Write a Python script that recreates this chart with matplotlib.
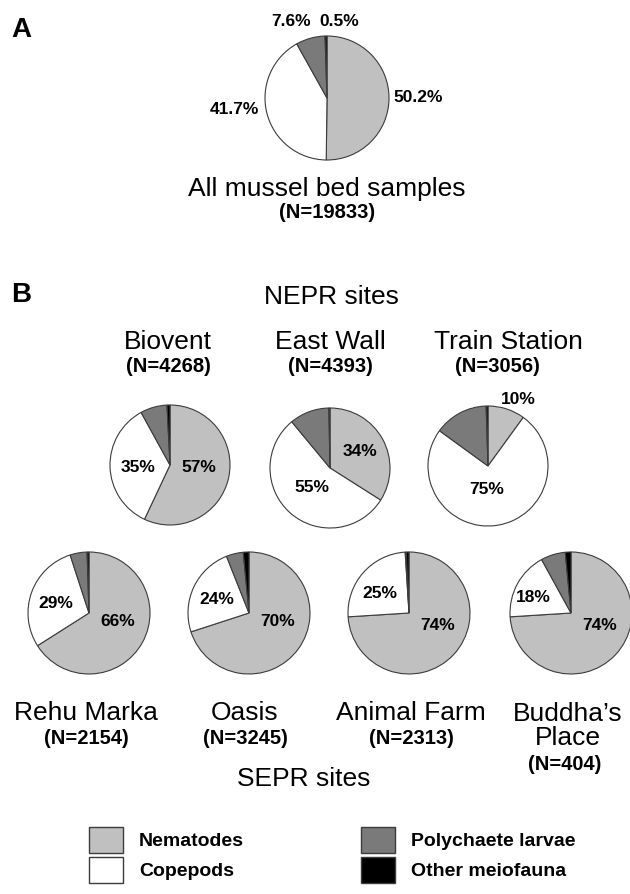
import matplotlib
matplotlib.use("Agg")
import matplotlib.pyplot as plt
from matplotlib.patches import Patch

W, H = 630, 894  # розмір у пікселях

# дані
groups = ["Nematodes", "Copepods", "Polychaete larvae", "Other meiofauna"]
all_values = [50.2, 41.7, 7.6, 0.5]
all_n = 19833

sites = ["Biovent", "East Wall", "Train Station",
         "Rehu Marka", "Oasis", "Animal Farm", "Buddha\u2019s\nPlace"]
site_n = [4268, 4393, 3056, 2154, 3245, 2313, 404]
nematodes = [57, 34, 10, 66, 70, 74, 74]
copepods = [35, 55, 75, 29, 24, 25, 18]
polychaetes = [7.2, 10.7, 14.5, 4.5, 4.5, 0.3, 6.5]
other = [0.8, 0.3, 0.5, 0.5, 1.5, 0.7, 1.5]

colors = ["#c0c0c0", "#ffffff", "#7a7a7a", "#000000"]

# розміщення (пікселі від верхнього лівого кута)
all_center, all_r = (327, 98), 62
all_label_pos = [(418, 98), (234, 110), (291, 22), (339, 21)]
site_centers = [(170, 465), (330, 468), (488, 466),
                (89, 613), (249, 613), (409, 613), (571, 613)]
site_r = [60, 60, 60, 61, 61, 61, 61]
nem_label_pos = [(199, 467), (360, 452), (518, 399),
                 (118, 622), (278, 622), (438, 626), (600, 626)]
cop_label_pos = [(138, 467), (312, 487), (487, 490),
                 (56, 603), (217, 599), (380, 593), (533, 597)]
title_pos = [(168, 342), (330, 342), (508, 342),
             (86, 713), (245, 713), (411, 713), (568, 726)]
n_pos = [(168, 366), (330, 366), (497, 366),
         (86, 739), (245, 739), (411, 739), (565, 765)]

plt.rcParams['font.family'] = ['Liberation Sans', 'DejaVu Sans']
PCT = 12.5
TITLE = 19
NSIZE = 14.5


def P(x, y):
    return x, H - y


fig = plt.figure(figsize=(W / 100, H / 100), dpi=100)
ax = fig.add_axes([0, 0, 1, 1])
wp = dict(edgecolor="#3c3c3c", linewidth=0.8)

# A
ax.pie(all_values, colors=colors, center=P(*all_center), radius=all_r,
       startangle=90, counterclock=False, wedgeprops=wp, frame=True)
for v, pos in zip(all_values, all_label_pos):
    ax.text(*P(*pos), f"{v:.1f}%", ha="center", va="center",
            fontsize=PCT, fontweight="bold")
ax.text(*P(327, 189), "All mussel bed samples", ha="center", va="center", fontsize=TITLE)
ax.text(*P(327, 213), f"(N={all_n})", ha="center", va="center",
        fontsize=NSIZE, fontweight="bold")

# B
for i, name in enumerate(sites):
    vals = [nematodes[i], copepods[i], polychaetes[i], other[i]]
    ax.pie(vals, colors=colors, center=P(*site_centers[i]), radius=site_r[i],
           startangle=90, counterclock=False, wedgeprops=wp, frame=True)
    ax.text(*P(*nem_label_pos[i]), f"{nematodes[i]}%", ha="center", va="center",
            fontsize=PCT, fontweight="bold")
    ax.text(*P(*cop_label_pos[i]), f"{copepods[i]}%", ha="center", va="center",
            fontsize=PCT, fontweight="bold")
    ax.text(*P(*title_pos[i]), name, ha="center", va="center", fontsize=TITLE,
            linespacing=1.05)
    ax.text(*P(*n_pos[i]), f"(N={site_n[i]})", ha="center", va="center",
            fontsize=NSIZE, fontweight="bold")

ax.text(*P(21, 30), "A", ha="center", va="center", fontsize=20, fontweight="bold")
ax.text(*P(21, 295), "B", ha="center", va="center", fontsize=20, fontweight="bold")
ax.text(*P(331, 297), "NEPR sites", ha="center", va="center", fontsize=TITLE)
ax.text(*P(304, 779), "SEPR sites", ha="center", va="center", fontsize=TITLE)

ax.set_xlim(0, W)
ax.set_ylim(0, H)
ax.set_aspect("equal")
ax.axis("off")

handles = [Patch(facecolor=c, edgecolor="#3c3c3c", linewidth=1.0) for c in colors]
fig.legend(handles, groups, ncol=2, loc="upper left",
           bbox_to_anchor=(89 / W, 1 - 827 / H), frameon=False,
           borderpad=0, borderaxespad=0, handlelength=1.75, handleheight=1.65,
           handletextpad=0.82, labelspacing=0.22, columnspacing=6.0,
           prop=dict(size=14, weight="bold"))

fig.savefig("out.png", dpi=100)
